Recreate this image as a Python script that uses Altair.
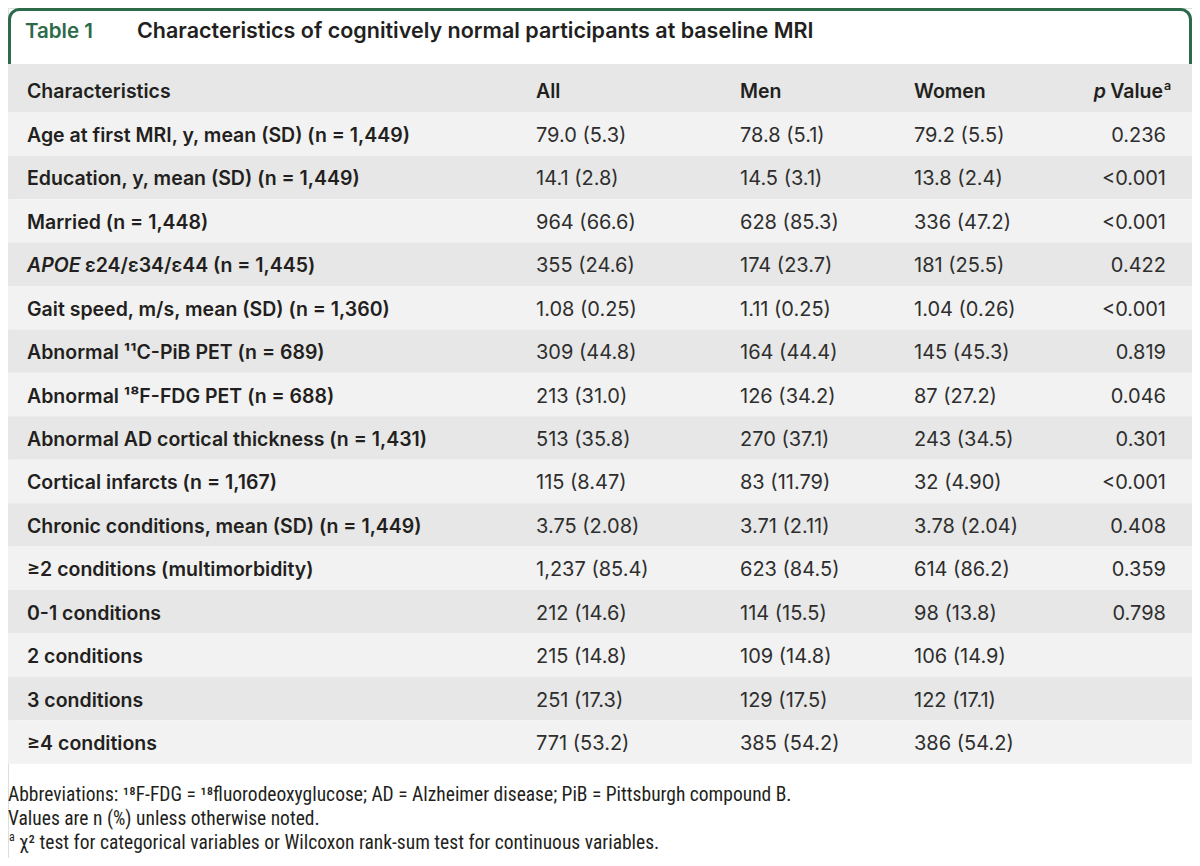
import altair as alt
import pandas as pd

# ---------------- data ----------------
title_label = "Table 1"
title_text = "Characteristics of cognitively normal participants at baseline MRI"
headers = ["Characteristics", "All", "Men", "Women"]
p_header = ["p", "Value", "a"]

label_italic = ["", "", "", "APOE", "", "", "", "", "", "", "", "", "", "", ""]
labels = [
    "Age at first MRI, y, mean (SD) (n = 1,449)",
    "Education, y, mean (SD) (n = 1,449)",
    "Married (n = 1,448)",
    "ε24/ε34/ε44 (n = 1,445)",
    "Gait speed, m/s, mean (SD) (n = 1,360)",
    "Abnormal ¹¹C-PiB PET (n = 689)",
    "Abnormal ¹⁸F-FDG PET (n = 688)",
    "Abnormal AD cortical thickness (n = 1,431)",
    "Cortical infarcts (n = 1,167)",
    "Chronic conditions, mean (SD) (n = 1,449)",
    "≥2 conditions (multimorbidity)",
    "0-1 conditions",
    "2 conditions",
    "3 conditions",
    "≥4 conditions",
]
all_vals = ["79.0 (5.3)", "14.1 (2.8)", "964 (66.6)", "355 (24.6)", "1.08 (0.25)",
            "309 (44.8)", "213 (31.0)", "513 (35.8)", "115 (8.47)", "3.75 (2.08)",
            "1,237 (85.4)", "212 (14.6)", "215 (14.8)", "251 (17.3)", "771 (53.2)"]
men_vals = ["78.8 (5.1)", "14.5 (3.1)", "628 (85.3)", "174 (23.7)", "1.11 (0.25)",
            "164 (44.4)", "126 (34.2)", "270 (37.1)", "83 (11.79)", "3.71 (2.11)",
            "623 (84.5)", "114 (15.5)", "109 (14.8)", "129 (17.5)", "385 (54.2)"]
women_vals = ["79.2 (5.5)", "13.8 (2.4)", "336 (47.2)", "181 (25.5)", "1.04 (0.26)",
              "145 (45.3)", "87 (27.2)", "243 (34.5)", "32 (4.90)", "3.78 (2.04)",
              "614 (86.2)", "98 (13.8)", "106 (14.9)", "122 (17.1)", "386 (54.2)"]
p_vals = ["0.236", "<0.001", "<0.001", "0.422", "<0.001", "0.819", "0.046", "0.301",
          "<0.001", "0.408", "0.359", "0.798", "", "", ""]

footer_lines = [
    "Abbreviations: ¹⁸F-FDG = ¹⁸fluorodeoxyglucose; AD = Alzheimer disease; PiB = Pittsburgh compound B.",
    "Values are n (%) unless otherwise noted.",
    "χ² test for categorical variables or Wilcoxon rank-sum test for continuous variables.",
]
footer_mark = "a"

# ---------------- layout helpers ----------------
W, H = 1184, 850   # fits inside the 1200x866 window with the 8px page margin
OFF = 8  # page margin
TDY = 2  # small downward nudge for text centred with baseline "middle"


def px(x):
    return x - OFF


def py(y):
    return y - OFF


GREEN = "#2d6a4a"
TXT = "#231f20"
DATA_TXT = "#2e2e2e"
LIGHT = "#f2f2f2"
DARK = "#e6e7e6"
FONT = "Inter"
LFS = 19.5   # label font size
DFS = 20     # data font size

df = pd.DataFrame({
    "row": list(range(1, len(labels) + 1)),
    "ital": label_italic,
    "label": labels,
    "All": all_vals,
    "Men": men_vals,
    "Women": women_vals,
    "p": p_vals,
})

# row index -> vertical pixel scale
row_step = 43.43
row0 = py(134) - row_step
yscale = alt.Scale(domain=[-row0 / row_step, (H - row0) / row_step],
                   reverse=True, nice=False, zero=False)

base = alt.Chart(df)
one = pd.DataFrame({"k": [0]})

# title box
title_box = alt.Chart(one).mark_rect(
    fill="white", stroke=GREEN, strokeWidth=3, cornerRadius=10
).encode(x=alt.value(1.5), x2=alt.value(W - 1.5),
         y=alt.value(1.5), y2=alt.value(py(90)))

title_l = alt.Chart(pd.DataFrame({"t": [title_label]})).mark_text(
    font=FONT, fontSize=20.5, fontWeight=600, color=GREEN, align="left", baseline="middle"
).encode(x=alt.value(px(25)), y=alt.value(24), text="t:N")

title_t = alt.Chart(pd.DataFrame({"t": [title_text]})).mark_text(
    font=FONT, fontSize=21.5, fontWeight=600, color=TXT, align="left", baseline="middle"
).encode(x=alt.value(px(137)), y=alt.value(24), text="t:N")

# header band
header_bg = alt.Chart(one).mark_rect(fill=DARK).encode(
    x=alt.value(0), x2=alt.value(W), y=alt.value(py(64)), y2=alt.value(py(112.5)))

hdf = pd.DataFrame({"h": headers, "col": list(range(len(headers)))})
hx = [27, 536, 740, 914]
header_layers = []
for i, h in enumerate(headers):
    header_layers.append(
        alt.Chart(hdf).transform_filter(f"datum.col == {i}").mark_text(
            font=FONT, fontSize=LFS, fontWeight=600, color=TXT, align="left", baseline="middle"
        ).encode(x=alt.value(px(hx[i])), y=alt.value(py(90) + TDY), text="h:N")
    )
pdf = pd.DataFrame({"t": p_header, "i": [0, 1, 2]})
p_italic = alt.Chart(pdf).transform_filter("datum.i == 0").mark_text(
    font=FONT, fontSize=LFS, fontWeight=600, fontStyle="italic", color=TXT,
    align="right", baseline="middle"
).encode(x=alt.value(px(1106)), y=alt.value(py(90) + TDY), text="t:N")
p_value = alt.Chart(pdf).transform_filter("datum.i == 1").mark_text(
    font=FONT, fontSize=LFS, fontWeight=600, color=TXT, align="right", baseline="middle"
).encode(x=alt.value(px(1163)), y=alt.value(py(90) + TDY), text="t:N")
p_sup = alt.Chart(pdf).transform_filter("datum.i == 2").mark_text(
    font=FONT, fontSize=12.5, fontWeight=600, color=TXT, align="left", baseline="middle"
).encode(x=alt.value(px(1164)), y=alt.value(py(84) + TDY), text="t:N")

# row bands
bands = base.transform_calculate(
    y0="datum.row - 0.5", y1="datum.row + 0.5"
).mark_rect().encode(
    x=alt.value(0), x2=alt.value(W),
    y=alt.Y("y0:Q", scale=yscale, axis=None), y2="y1:Q",
    fill=alt.condition("datum.row % 2 == 1", alt.value(LIGHT), alt.value(DARK)),
)

ypos = alt.Y("row:Q", scale=yscale, axis=None)

lab_plain = base.transform_filter("datum.ital == ''").mark_text(
    font=FONT, fontSize=LFS, fontWeight=600, color=TXT, align="left", baseline="middle", dy=TDY
).encode(x=alt.value(px(27)), y=ypos, text="label:N")
lab_ital = base.transform_filter("datum.ital != ''").mark_text(
    font=FONT, fontSize=LFS, fontWeight=600, fontStyle="italic", color=TXT,
    align="left", baseline="middle", dy=TDY
).encode(x=alt.value(px(27)), y=ypos, text="ital:N")
lab_rest = base.transform_filter("datum.ital != ''").mark_text(
    font=FONT, fontSize=LFS, fontWeight=600, color=TXT, align="left", baseline="middle", dy=TDY
).encode(x=alt.value(px(85)), y=ypos, text="label:N")

col_layers = []
for col, xr in [("All", 536), ("Men", 740), ("Women", 914)]:
    col_layers.append(
        base.mark_text(font=FONT, fontSize=DFS, color=DATA_TXT, align="left",
                       baseline="middle", dy=TDY)
        .encode(x=alt.value(px(xr)), y=ypos, text=f"{col}:N")
    )
p_layer = base.mark_text(font=FONT, fontSize=DFS, color=DATA_TXT, align="right",
                         baseline="middle", dy=TDY).encode(
    x=alt.value(px(1166)), y=ypos, text="p:N")

# footer
FFONT = "Liberation Sans Narrow, Roboto Condensed, Liberation Sans"
fdf = pd.DataFrame({"t": footer_lines, "i": [0, 1, 2]})
foot_layers = []
for i, (fx, fy) in enumerate([(8, 795), (8, 819), (19, 843)]):
    foot_layers.append(
        alt.Chart(fdf).transform_filter(f"datum.i == {i}").mark_text(
            font=FFONT, fontSize=19.5, color=TXT, align="left", baseline="middle"
        ).encode(x=alt.value(px(fx)), y=alt.value(py(fy)), text="t:N")
    )
foot_sup = alt.Chart(pd.DataFrame({"t": [footer_mark]})).mark_text(
    font=FFONT, fontSize=12, color=TXT, align="left", baseline="middle"
).encode(x=alt.value(px(9)), y=alt.value(py(837)), text="t:N")

chart = alt.layer(
    title_box, title_l, title_t, header_bg, *header_layers, p_italic, p_value, p_sup,
    bands, lab_plain, lab_ital, lab_rest, *col_layers, p_layer, *foot_layers, foot_sup
).properties(
    width=W, height=H
).configure_view(stroke=None).configure(
    padding=0, background="white", autosize=alt.AutoSizeParams(type="none")
)

chart.save("out.html", embed_options={"renderer": "svg", "actions": False})
